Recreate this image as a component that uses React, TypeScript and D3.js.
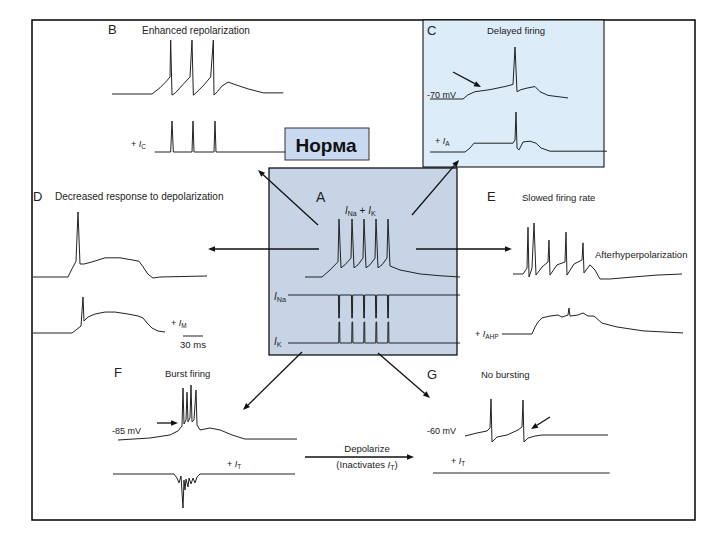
import * as d3 from "d3";

type Pt = [number, number];

// time in ms, membrane potential in mV, currents normalised to their peak
const bVm: Pt[] = [[0, -65], [60, -65], [72, -54], [82, -42], [87, -35], [88, 30], [90, -67], [95, -63], [106, -49], [117, -35], [120, 30], [122, -67], [126, -63], [138, -49], [148, -35], [152, 30], [153, -67], [158, -61], [165, -51], [174, -44], [186, -49], [204, -56], [227, -63], [257, -63]];
const bIc: Pt[] = [[64, 0], [88, 0], [90, 1], [92, 0], [120, 0], [121.5, 1], [123, 0], [153, 0], [154.5, 1], [156, 0], [260, 0]];

const cVm: Pt[] = [[0, -70], [49.5, -70], [57, -62], [67.5, -56], [90, -52], [112.5, -46], [124.5, -42], [127.5, 30], [130.5, -56], [136.5, -52], [145.5, -49], [157.5, -46], [165, -56], [177, -63], [207, -68]];
const cIa: Pt[] = [[0, 0], [52.5, 0], [60, 0.1], [66, 0.22], [124.5, 0.22], [127.5, 0.3], [129, 1], [130.5, 0.1], [133.5, 0.05], [139.5, 0.25], [150, 0.27], [159, 0.22], [166.5, 0.1], [180, 0.02], [265.5, 0.02]];

const aVm: Pt[] = [[0, -65], [25.5, -65], [37.5, -53.5], [49.5, -40], [51, 30], [54, -50], [60, -45], [69, -34], [70.5, 30], [73.5, -50], [79.5, -45], [87, -34], [88.5, 30], [91.5, -50], [97.5, -45], [105, -34], [106.5, 30], [109.5, -50], [115.5, -45], [123, -34], [124.5, 30], [127.5, -47], [142.5, -53.5], [172.5, -60], [202.5, -63], [232.5, -65]];
const aINa: Pt[] = [[-25.5, 0], [50.2, 0], [50.6, -1], [51.6, -1], [52, 0], [69.7, 0], [70.1, -1], [71.1, -1], [71.5, 0], [87.7, 0], [88.1, -1], [89.1, -1], [89.5, 0], [105.7, 0], [106.1, -1], [107.1, -1], [107.5, 0], [123.7, 0], [124.1, -1], [125.1, -1], [125.5, 0], [232.5, 0]];
const aIK: Pt[] = [[-25.5, 0], [50.6, 0], [51, 1], [52, 1], [52.4, 0], [70.1, 0], [70.5, 1], [71.5, 1], [71.9, 0], [88.1, 0], [88.5, 1], [89.5, 1], [89.9, 0], [106.1, 0], [106.5, 1], [107.5, 1], [107.9, 0], [124.1, 0], [124.5, 1], [125.5, 1], [125.9, 0], [232.5, 0]];

const dVm: Pt[] = [[0, -65], [52.5, -65], [58.5, -53], [64.5, -42], [67.5, 30], [70.5, -46], [76.5, -46], [88.5, -43], [108, -37], [130.5, -37], [148.5, -40], [159, -42], [165, -50], [172.5, -61], [180, -66.5], [190.5, -65], [261, -63.5]];
const dIm: Pt[] = [[0, -65], [58.5, -65], [64.5, -60.4], [72, -54.3], [75, -10], [76.5, -46.7], [82.5, -40.6], [93, -36], [108, -33], [123, -33], [142.5, -36], [157.5, -39], [165, -42], [171, -49.7], [178.5, -57.4], [187.5, -62], [198, -63.5]];
const scaleBarMs = 30;

const eVm: Pt[] = [[0, -65], [15, -65], [21, -54], [22.5, 22], [24, -70.6], [28.5, -54], [31.5, 30], [34.5, -67], [43.5, -52], [52.5, -42.7], [54, -2], [55.5, -67], [66, -48], [78, -42.7], [79.5, 13], [81, -67], [91.5, -46.4], [103.5, -39], [105, -7], [106.5, -63], [115.5, -48], [123, -57.6], [130.5, -74.3], [145.5, -74.3], [180, -70.6], [216, -67], [253.5, -65]];
const eIahp: Pt[] = [[0, 0], [45, 0], [49.5, 0.27], [54, 0.46], [60, 0.62], [72, 0.69], [84, 0.73], [90, 0.65], [99, 0.73], [100.5, 1], [102, 0.69], [114, 0.73], [121.5, 0.81], [129, 0.69], [138, 0.69], [150, 0.42], [172.5, 0.27], [211.5, 0.12], [271.5, 0.04]];

const fVm: Pt[] = [[0, -85], [48, -80.8], [78, -74.5], [90, -66], [96, -55.7], [97.5, 23.7], [99, -51.5], [102, -43], [103.5, 15], [105, -47], [108, -39], [109.5, 30], [111, -47], [114, -43], [117, 19.5], [118.5, -53.6], [123, -64], [138, -60], [153, -64], [171, -74.5], [190.5, -83], [268.5, -83]];
const fIt: Pt[] = [[0, 0], [91.5, 0], [96, -0.12], [99, -0.26], [102, -0.06], [105, -1], [106.5, -0.18], [108, -0.47], [109.5, -0.15], [112.5, -0.38], [114, -0.12], [117, -0.29], [120, -0.12], [123, -0.26], [126, -0.09], [130.5, 0], [273, 0]];

const gVm: Pt[] = [[0, -60], [18, -52.7], [33, -47.8], [37.5, -40.6], [39, 30], [40.5, -74.6], [48, -62.4], [63, -57.6], [79.5, -45.4], [85.5, -38], [87, 27.5], [88.5, -74.6], [94.5, -65], [105, -60], [115.5, -57.6], [214.5, -57.6]];
const gIt: Pt[] = [[0, 0], [265, 0]];

const FONT = "Arial, 'Liberation Sans', sans-serif";
const INK = "#222";
const MS_PER_PX = 1.5;

function xAt(x0: number) {
  return d3.scaleLinear().domain([0, 300]).range([x0, x0 + 300 / MS_PER_PX]);
}

function Trace({ data, x0, vy, py }: { data: Pt[]; x0: number; vy: [number, number]; py: [number, number] }) {
  const x = xAt(x0);
  const y = d3.scaleLinear().domain(vy).range(py);
  const line = d3.line<Pt>().x(d => x(d[0])).y(d => y(d[1]));
  return <path d={line(data) ?? ""} fill="none" stroke={INK} strokeWidth={1} strokeLinejoin="round" />;
}

function Arrow({ x1, y1, x2, y2 }: { x1: number; y1: number; x2: number; y2: number }) {
  const a = Math.atan2(y2 - y1, x2 - x1);
  const L = 7, W = 2.8;
  const bx = x2 - L * Math.cos(a), by = y2 - L * Math.sin(a);
  const pts = [
    [x2, y2],
    [bx + W * Math.sin(a), by - W * Math.cos(a)],
    [bx - W * Math.sin(a), by + W * Math.cos(a)],
  ].map(p => p.join(",")).join(" ");
  return (
    <g>
      <line x1={x1} y1={y1} x2={bx} y2={by} stroke="#111" strokeWidth={1.3} />
      <polygon points={pts} fill="#111" />
    </g>
  );
}

function Cur({ x, y, sub, plus = true, size = 9 }: { x: number; y: number; sub: string; plus?: boolean; size?: number }) {
  return (
    <text x={x} y={y} fontSize={size} fontFamily={FONT} fill={INK}>
      {plus ? "+  " : ""}
      <tspan fontStyle="italic">I</tspan>
      <tspan fontSize={size * 0.72} dy={2}>{sub}</tspan>
    </text>
  );
}

function Label({ x, y, children, size = 10, anchor = "start" }: { x: number; y: number; children: any; size?: number; anchor?: string }) {
  return (
    <text x={x} y={y} fontSize={size} fontFamily={FONT} fill={INK} textAnchor={anchor as any}>
      {children}
    </text>
  );
}

export default function App() {
  const dx = xAt(33);
  const barStart = 225;
  return (
    <svg width={720} height={540} style={{ position: "absolute", left: 0, top: 0, background: "#fff" }}>
      <rect x={32} y={20} width={663} height={500} fill="none" stroke="#000" strokeWidth={1.5} />
      <rect x={423} y={20} width={181} height={147} fill="#ddecf9" stroke="#000" strokeWidth={1} />
      <rect x={269} y={168} width={188} height={187} fill="#c7d4e5" stroke="#000" strokeWidth={1.2} />
      <rect x={285} y={128} width={84} height={32} fill="#c9d9ef" stroke="#333" strokeWidth={1} />
      <text x={326} y={152} fontSize={19} fontWeight="bold" fontFamily={FONT} textAnchor="middle" fill="#111">Норма</text>

      {/* B */}
      <Label x={108} y={34} size={13}>B</Label>
      <Label x={142} y={34}>Enhanced repolarization</Label>
      <Trace data={bVm} x0={112} vy={[-65, 30]} py={[94, 40]} />
      <Trace data={bIc} x0={112} vy={[0, 1]} py={[152, 121]} />
      <Cur x={131} y={147} sub="C" />

      {/* C */}
      <Label x={427} y={35} size={13}>C</Label>
      <Label x={487} y={34} size={9.5}>Delayed firing</Label>
      <Trace data={cVm} x0={430} vy={[-70, 30]} py={[99, 47]} />
      <Trace data={cIa} x0={430} vy={[0, 1]} py={[152, 112]} />
      <Label x={427} y={98} size={9}>-70 mV</Label>
      <Cur x={435} y={144} sub="A" />
      <Arrow x1={453} y1={72} x2={481} y2={87} />

      {/* A */}
      <Label x={316} y={202} size={14}>A</Label>
      <text x={345} y={214} fontSize={10} fontFamily={FONT} fill={INK}>
        <tspan fontStyle="italic">I</tspan>
        <tspan fontSize={7} dy={2}>Na</tspan>
        <tspan dy={-2}> + </tspan>
        <tspan fontStyle="italic">I</tspan>
        <tspan fontSize={7} dy={2}>K</tspan>
      </text>
      <Trace data={aVm} x0={305} vy={[-65, 30]} py={[277, 219]} />
      <Trace data={aINa} x0={305} vy={[0, -1]} py={[295, 318]} />
      <Trace data={aIK} x0={305} vy={[0, 1]} py={[343, 322]} />
      <Cur x={274} y={300} sub="Na" plus={false} size={10} />
      <Cur x={274} y={345} sub="K" plus={false} size={10} />

      {/* D */}
      <Label x={33} y={201} size={13}>D</Label>
      <Label x={55} y={200}>Decreased response to depolarization</Label>
      <Trace data={dVm} x0={33} vy={[-65, 30]} py={[277, 212]} />
      <Trace data={dIm} x0={33} vy={[-65, -10]} py={[333, 297]} />
      <Cur x={171} y={326} sub="M" />
      <line x1={dx(barStart)} x2={dx(barStart + scaleBarMs)} y1={336} y2={336} stroke={INK} strokeWidth={1} />
      <Label x={dx(barStart + scaleBarMs / 2)} y={348} size={9.5} anchor="middle">30 ms</Label>

      {/* E */}
      <Label x={487} y={201} size={13}>E</Label>
      <Label x={522} y={201} size={9.5}>Slowed firing rate</Label>
      <Label x={595} y={258} size={9.5}>Afterhyperpolarization</Label>
      <Trace data={eVm} x0={513} vy={[-65, 30]} py={[274, 223]} />
      <Trace data={eIahp} x0={502} vy={[0, 1]} py={[334, 308]} />
      <Cur x={475} y={337} sub="AHP" />

      {/* F */}
      <Label x={114} y={377} size={13}>F</Label>
      <Label x={165} y={377} size={9.5}>Burst firing</Label>
      <Trace data={fVm} x0={118} vy={[-85, 30]} py={[440, 385]} />
      <Trace data={fIt} x0={113} vy={[0, -1]} py={[474, 508]} />
      <Label x={112} y={434} size={9}>-85 mV</Label>
      <Cur x={227} y={467} sub="T" />
      <Arrow x1={157} y1={423} x2={178} y2={423} />

      {/* G */}
      <Label x={427} y={379} size={13}>G</Label>
      <Label x={481} y={378} size={9.5}>No bursting</Label>
      <Trace data={gVm} x0={465} vy={[-60, 30]} py={[436, 399]} />
      <Trace data={gIt} x0={433} vy={[0, 1]} py={[473, 440]} />
      <Label x={427} y={434} size={9}>-60 mV</Label>
      <Cur x={451} y={464} sub="T" />
      <Arrow x1={550} y1={417} x2={531} y2={429} />

      {/* depolarize */}
      <Arrow x1={305} y1={457} x2={414} y2={457} />
      <Label x={367} y={452} size={9.5} anchor="middle">Depolarize</Label>
      <text x={367} y={468} fontSize={9.5} fontFamily={FONT} fill={INK} textAnchor="middle">
        (Inactivates <tspan fontStyle="italic">I</tspan><tspan fontSize={7} dy={2}>T</tspan><tspan dy={-2}>)</tspan>
      </text>

      {/* arrows from A */}
      <Arrow x1={318} y1={225} x2={258} y2={170} />
      <Arrow x1={412} y1={215} x2={459} y2={160} />
      <Arrow x1={319} y1={249} x2={208} y2={249} />
      <Arrow x1={416} y1={249} x2={512} y2={249} />
      <Arrow x1={302} y1={352} x2={243} y2={410} />
      <Arrow x1={378} y1={353} x2={430} y2={398} />
    </svg>
  );
}
